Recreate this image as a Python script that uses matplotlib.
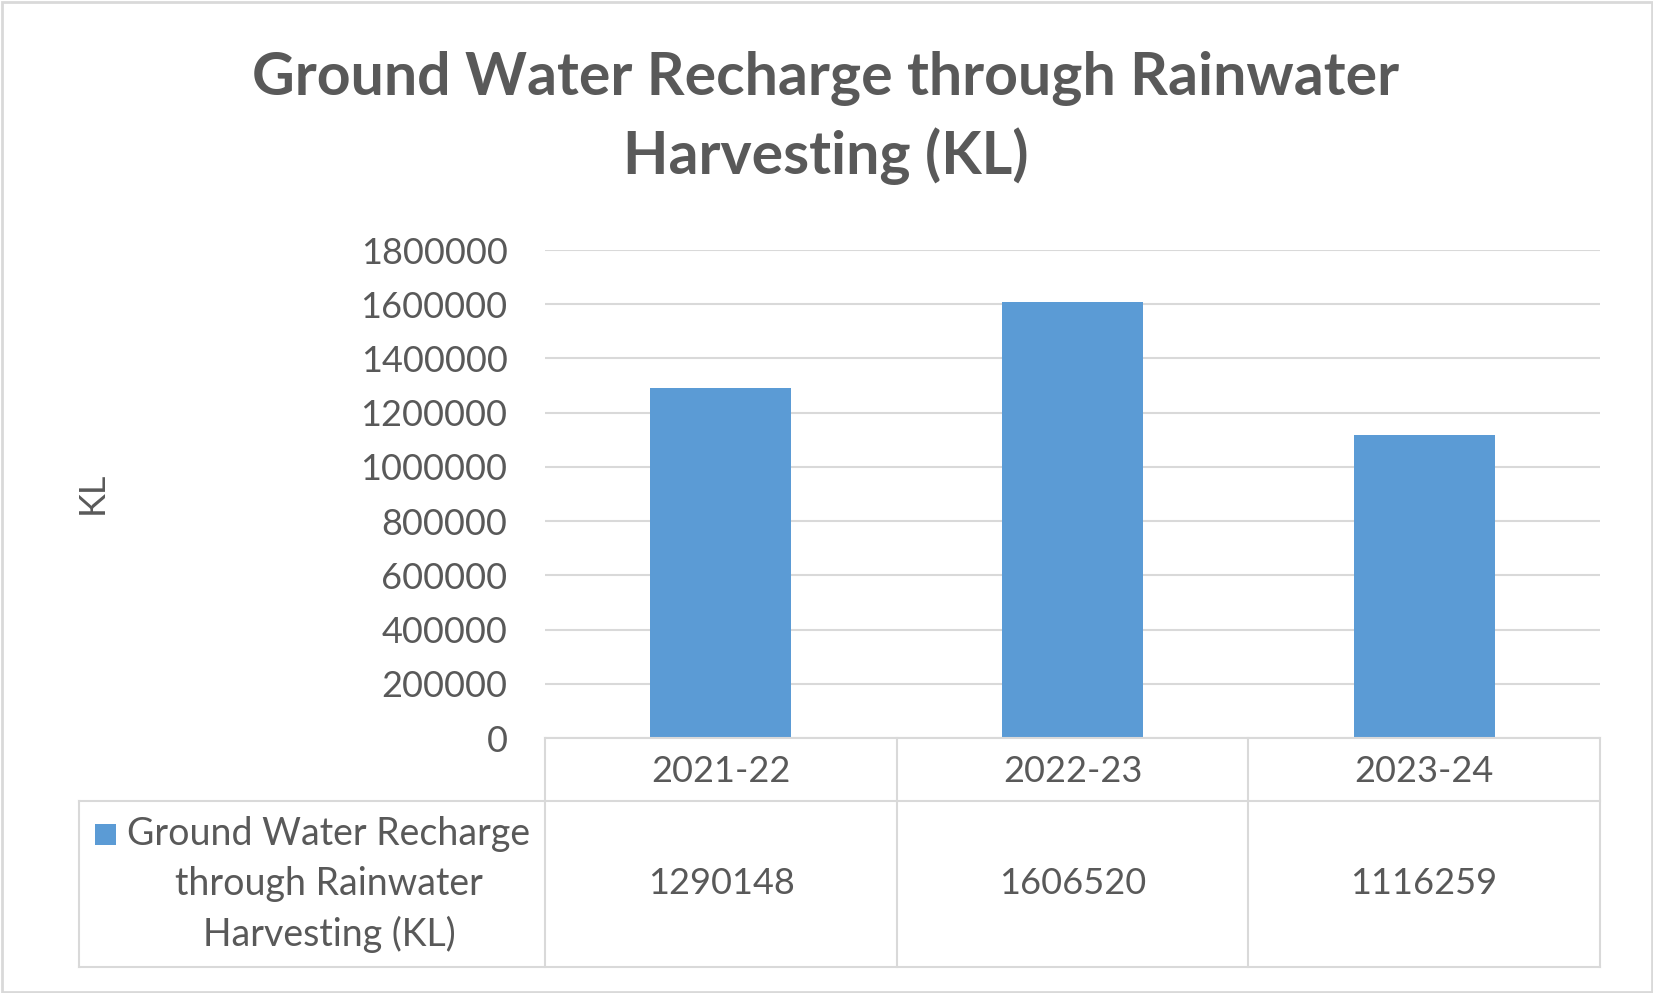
import matplotlib
matplotlib.use("Agg")
import matplotlib.pyplot as plt
from matplotlib.lines import Line2D
from matplotlib.patches import Rectangle

# data
years = ['2021-22', '2022-23', '2023-24']
recharge = [1290148, 1606520, 1116259]
legend_lines = ['Ground Water Recharge', 'through Rainwater', 'Harvesting (KL)']
yticks = list(range(0, 1800001, 200000))

W, H = 1653, 993
txt = '#595959'
grid = '#d9d9d9'
blue = '#5b9bd5'
plt.rcParams['font.family'] = ['Lato', 'DejaVu Sans']

fig = plt.figure(figsize=(W / 100, H / 100), dpi=100)

def fx(px):
    return px / W

def fy(py):
    return 1 - py / H

# plot area
left, right, top, bottom = 545, 1600, 250, 738
ax = fig.add_axes([fx(left), fy(bottom), fx(right - left), (bottom - top) / H])
x = range(len(years))
ax.bar(x, recharge, width=0.4, color=blue, zorder=3)
ax.set_xlim(-0.5, len(years) - 0.5)
ax.set_ylim(0, 1800000)
ax.set_yticks(yticks)
ax.set_yticklabels([str(t) for t in yticks])
ax.set_xticks([])
ax.grid(axis='y', color=grid, linewidth=1.5, zorder=0)
for s in ax.spines.values():
    s.set_visible(False)
ax.tick_params(axis='y', length=0, pad=27, labelsize=26, labelcolor=txt)

# axis title
fig.text(fx(92), fy(493), 'KL', rotation=90, ha='center', va='center', fontsize=26, color=txt)

# title
fig.text(fx(826), fy(79), 'Ground Water Recharge through Rainwater', ha='center', va='center',
         fontsize=42.5, fontweight='bold', color=txt)
fig.text(fx(826), fy(156), 'Harvesting (KL)', ha='center', va='center',
         fontsize=42.5, fontweight='bold', color=txt)

# data table
cols = [545, 897, 1248, 1600]
row_top, row_mid, row_bot = 738, 801, 967
lw = 1.5
def hline(x0, x1, y):
    fig.add_artist(Line2D([fx(x0), fx(x1)], [fy(y), fy(y)], color=grid, lw=lw))
def vline(xp, y0, y1):
    fig.add_artist(Line2D([fx(xp), fx(xp)], [fy(y0), fy(y1)], color=grid, lw=lw))

hline(cols[0], cols[-1], row_top)
hline(79, cols[-1], row_mid)
hline(79, cols[-1], row_bot)
vline(79, row_mid, row_bot)
for c in cols:
    vline(c, row_top, row_bot)

for i, (yr, v) in enumerate(zip(years, recharge)):
    cx = (cols[i] + cols[i + 1]) / 2
    fig.text(fx(cx), fy(771), yr, ha='center', va='center', fontsize=26, color=txt)
    fig.text(fx(cx), fy(884), str(v), ha='center', va='center', fontsize=26, color=txt)

for line, yp in zip(legend_lines, [834, 884, 934]):
    fig.text(fx(329), fy(yp), line, ha='center', va='center', fontsize=27, color=txt)
fig.add_artist(Rectangle((fx(95), fy(845)), fx(21), 21 / H, facecolor=blue, edgecolor='none'))

# chart border
fig.add_artist(Rectangle((fx(1.5), fy(991.5)), fx(W - 3), (H - 3) / H, fill=False,
                         edgecolor=grid, lw=2))

fig.savefig('out.png', dpi=100)
